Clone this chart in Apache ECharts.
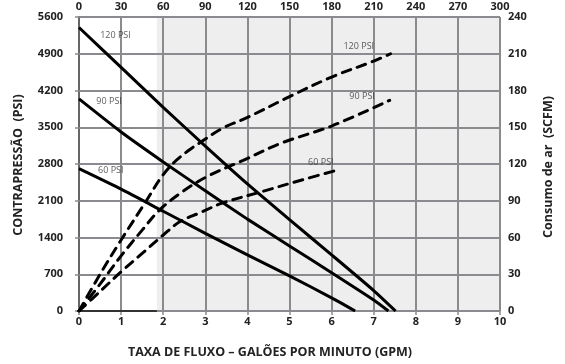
<!DOCTYPE html>
<html>
<head>
<meta charset="utf-8">
<script src="https://cdn.jsdelivr.net/npm/echarts@6/dist/echarts.min.js"></script>
<style>
html,body{margin:0;padding:0;background:#fff;}
#c{width:565px;height:364px;}
</style>
</head>
<body>
<div id="c"></div>
<script>
// Flow (GPM) vs backpressure (PSI) – solid lines, left axis
const psi120 = [[0,5400],[1,4640],[2,3880],[3,3140],[4,2420],[5,1740],[6,1070],[7,390],[7.52,0]];
const psi90  = [[0,4040],[1,3410],[2,2840],[3,2290],[4,1750],[5,1240],[6,730],[7,210],[7.35,0]];
const psi60  = [[0,2710],[1,2320],[2,1900],[3,1480],[4,1070],[5,670],[6,250],[6.56,0]];
// Flow (GPM) vs air consumption (SCFM) – dashed lines, right axis
const air120 = [[0,0],[0.5,30],[1,58],[1.6,90],[1.95,109],[2.25,121],[2.6,131],[2.9,138],[3.4,149],[4,158],[5,175],[6,191],[7,204],[7.4,210]];
const air90  = [[0,0],[0.5,22],[1,45],[1.5,66],[1.9,82],[2.4,96],[3,109],[3.9,123],[4.8,137],[6,151],[7.38,172]];
const air60  = [[0,0],[0.5,16],[1,32],[1.5,47],[2,62],[2.4,73],[2.86,80],[3.4,88],[4.3,97],[5.4,108],[6.14,115]];
// Curve labels
const solidLabels = [[0.49,5250,'120 PSI'],[0.40,3995,'90 PSI'],[0.44,2673,'60 PSI']];
const dashLabels  = [[6.27,215.6,'120 PSI'],[6.41,174.9,'90 PSI'],[5.43,121.5,'60 PSI']];
// Axis ranges
const xBottom = {min:0,max:10,interval:1};
const xTop = {min:0,max:300,interval:30};
const yLeft = {min:0,max:5600,interval:700};
const yRight = {min:0,max:240,interval:30};
const shadeFrom = 1.85;

const FONT = '"Open Sans", "Noto Sans", sans-serif';
const GRID = '#8a8a8f';
const lbl = {fontFamily:FONT,fontWeight:'bold',fontSize:11,color:'#222',formatter:v=>String(v)};

const chart = echarts.init(document.getElementById('c'), null, {renderer:'canvas'});

function solid(data){
  return {type:'line',data:data,xAxisIndex:0,yAxisIndex:0,showSymbol:false,symbol:'none',smooth:0.2,z:10,
    lineStyle:{color:'#000',width:3},silent:true};
}
function dashed(data){
  return {type:'line',data:data,xAxisIndex:0,yAxisIndex:1,showSymbol:false,symbol:'none',smooth:0.35,z:10,
    lineStyle:{color:'#000',width:3,type:[9,7],cap:'round'},silent:true};
}
function labels(data, yi){
  return {type:'scatter',xAxisIndex:0,yAxisIndex:yi,symbolSize:1,itemStyle:{color:'rgba(0,0,0,0)'},z:11,silent:true,
    data:data.map(d=>({value:[d[0],d[1]],name:d[2]})),
    label:{show:true,position:'right',distance:0,formatter:p=>p.name,fontFamily:FONT,fontSize:9,color:'#333'}};
}

chart.setOption({
  animation:false,
  backgroundColor:'#fff',
  grid:{left:79,right:65,top:17,bottom:53,containLabel:false},
  xAxis:[
    {type:'value',position:'bottom',min:xBottom.min,max:xBottom.max,interval:xBottom.interval,z:4,
      axisLine:{show:false},axisTick:{show:true,length:4,lineStyle:{color:GRID,width:1.5}},
      axisLabel:Object.assign({margin:5},lbl),
      splitLine:{show:true,lineStyle:{color:GRID,width:2}}},
    {type:'value',position:'top',min:xTop.min,max:xTop.max,interval:xTop.interval,z:4,
      axisLine:{show:false},axisTick:{show:true,length:4,lineStyle:{color:GRID,width:1.5}},
      axisLabel:Object.assign({margin:5},lbl),
      splitLine:{show:false}}
  ],
  yAxis:[
    {type:'value',position:'left',min:yLeft.min,max:yLeft.max,interval:yLeft.interval,z:4,
      axisLine:{show:true,lineStyle:{color:'#666',width:2}},axisTick:{show:true,length:4,lineStyle:{color:GRID,width:1.5}},
      axisLabel:Object.assign({margin:16},lbl),
      splitLine:{show:true,lineStyle:{color:GRID,width:2}}},
    {type:'value',position:'right',min:yRight.min,max:yRight.max,interval:yRight.interval,z:4,
      axisLine:{show:false},axisTick:{show:true,length:4,lineStyle:{color:GRID,width:1.5}},
      axisLabel:Object.assign({margin:8},lbl),
      splitLine:{show:false}}
  ],
  graphic:[
    {type:'text',x:270,y:352,style:{text:'TAXA DE FLUXO – GALÕES POR MINUTO (GPM)',font:'bold 12.5px '+FONT,fill:'#222',
      align:'center',verticalAlign:'middle'},z:10},
    {type:'text',x:18,y:165,rotation:Math.PI/2,style:{text:'CONTRAPRESSÃO  (PSI)',font:'bold 12.5px '+FONT,fill:'#222',
      align:'center',verticalAlign:'middle'},z:10},
    {type:'text',x:548,y:167,rotation:Math.PI/2,style:{text:'Consumo de ar  (SCFM)',font:'bold 12.5px '+FONT,fill:'#222',
      align:'center',verticalAlign:'middle'},z:10}
  ],
  series:[
    {type:'line',data:[],xAxisIndex:0,yAxisIndex:0,z:0,zlevel:0,silent:true,
      markArea:{silent:true,z:0,itemStyle:{color:'#eeeeee'},data:[[{xAxis:shadeFrom},{xAxis:xBottom.max}]]}},
    {type:'line',data:[],xAxisIndex:0,yAxisIndex:0,z:6,silent:true,
      markLine:{silent:true,z:6,symbol:'none',label:{show:false},lineStyle:{color:'#333',width:2,type:'solid'},
        data:[[{coord:[0,0]},{coord:[shadeFrom,0]}]]}},
    solid(psi120),solid(psi90),solid(psi60),
    dashed(air120),dashed(air90),dashed(air60),
    labels(solidLabels,0),labels(dashLabels,1)
  ]
});
</script>
</body>
</html>
